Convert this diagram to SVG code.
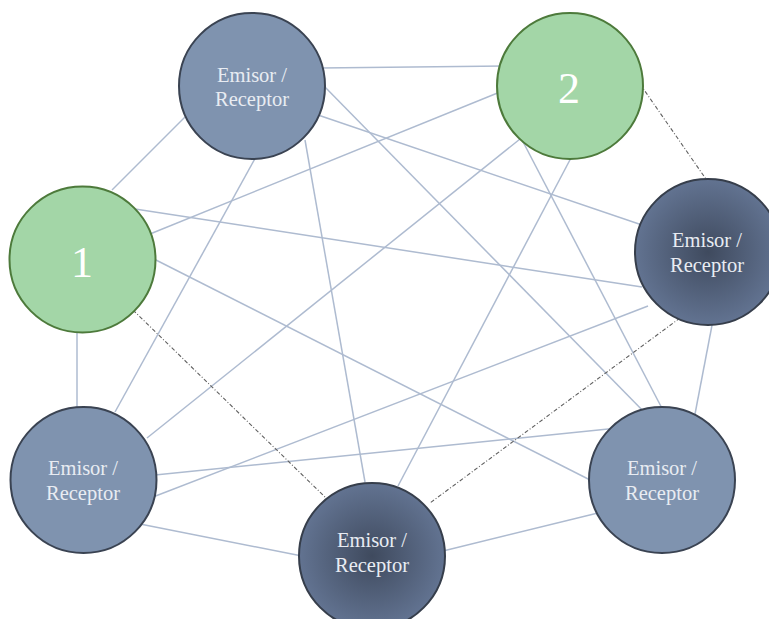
<svg xmlns="http://www.w3.org/2000/svg" width="769" height="619" viewBox="0 0 769 619">
  <style>
    .edge { stroke: #aebbd0; stroke-width: 1.5; fill: none; }
    .dash { stroke: #606060; stroke-width: 1.1; stroke-dasharray: 4 2 1 2; fill: none; }
    .light { fill: #7f93af; stroke: #3a4352; stroke-width: 2; }
    .dark { fill: url(#darkGrad); stroke: #363e4b; stroke-width: 2; }
    .green { fill: #a3d6a7; stroke: #4d7a3b; stroke-width: 2; }
    .lbl { font-family: "Liberation Serif", "Times New Roman", serif; font-size: 20.5px; fill: #e8ecf2; text-anchor: middle; }
    .num { font-family: "Liberation Serif", "Times New Roman", serif; font-size: 44px; fill: #ffffff; text-anchor: middle; }
  </style>
  <defs>
    <radialGradient id="darkGrad" cx="50%" cy="50%" r="50%">
      <stop offset="0%" stop-color="#3f4a5e"/>
      <stop offset="100%" stop-color="#627391"/>
    </radialGradient>
  </defs>
  <rect width="769" height="619" fill="#ffffff"/>
  <g id="connectors">
    <line class="edge" x1="320" y1="68" x2="505" y2="66"/>
    <line class="edge" x1="112" y1="190" x2="190" y2="112"/>
    <line class="edge" x1="257" y1="155" x2="115" y2="412"/>
    <line class="edge" x1="305" y1="140" x2="365" y2="482"/>
    <line class="edge" x1="318" y1="115" x2="642" y2="225"/>
    <line class="edge" x1="322" y1="84" x2="650" y2="418"/>
    <line class="edge" x1="500" y1="92" x2="150" y2="234"/>
    <line class="edge" x1="520" y1="139" x2="147" y2="438"/>
    <line class="edge" x1="572" y1="156" x2="398" y2="486"/>
    <line class="edge" x1="520" y1="136" x2="666" y2="416"/>
    <line class="edge" x1="135" y1="209" x2="642" y2="287"/>
    <line class="edge" x1="152" y1="258" x2="598" y2="484"/>
    <line class="edge" x1="77" y1="330" x2="77" y2="410"/>
    <line class="edge" x1="153" y1="497" x2="648" y2="306"/>
    <line class="edge" x1="713" y1="320" x2="695" y2="414"/>
    <line class="edge" x1="155" y1="475" x2="618" y2="428"/>
    <line class="edge" x1="140" y1="524" x2="302" y2="556"/>
    <line class="edge" x1="443" y1="551" x2="602" y2="512"/>
    <line class="dash" x1="133" y1="310" x2="325" y2="497"/>
    <line class="dash" x1="640" y1="84" x2="708" y2="182"/>
    <line class="dash" x1="680" y1="318" x2="430" y2="503"/>
  </g>
  <g id="node-top">
    <circle class="light" cx="252" cy="86" r="73"/>
    <text class="lbl" x="252" y="82">Emisor /</text>
    <text class="lbl" x="252" y="106">Receptor</text>
  </g>
  <g id="node-2">
    <circle class="green" cx="570" cy="86" r="73"/>
    <text class="num" x="569" y="103">2</text>
  </g>
  <g id="node-1">
    <circle class="green" cx="82.5" cy="259.5" r="73"/>
    <text class="num" x="82" y="277">1</text>
  </g>
  <g id="node-right">
    <circle class="dark" cx="708" cy="252" r="73"/>
    <text class="lbl" x="707" y="247">Emisor /</text>
    <text class="lbl" x="707" y="272">Receptor</text>
  </g>
  <g id="node-bottom-left">
    <circle class="light" cx="83.5" cy="480" r="73"/>
    <text class="lbl" x="83" y="475">Emisor /</text>
    <text class="lbl" x="83" y="500">Receptor</text>
  </g>
  <g id="node-bottom-right">
    <circle class="light" cx="662" cy="480" r="73"/>
    <text class="lbl" x="662" y="475">Emisor /</text>
    <text class="lbl" x="662" y="500">Receptor</text>
  </g>
  <g id="node-bottom">
    <circle class="dark" cx="372" cy="556" r="73"/>
    <text class="lbl" x="372" y="547">Emisor /</text>
    <text class="lbl" x="372" y="572">Receptor</text>
  </g>
</svg>
